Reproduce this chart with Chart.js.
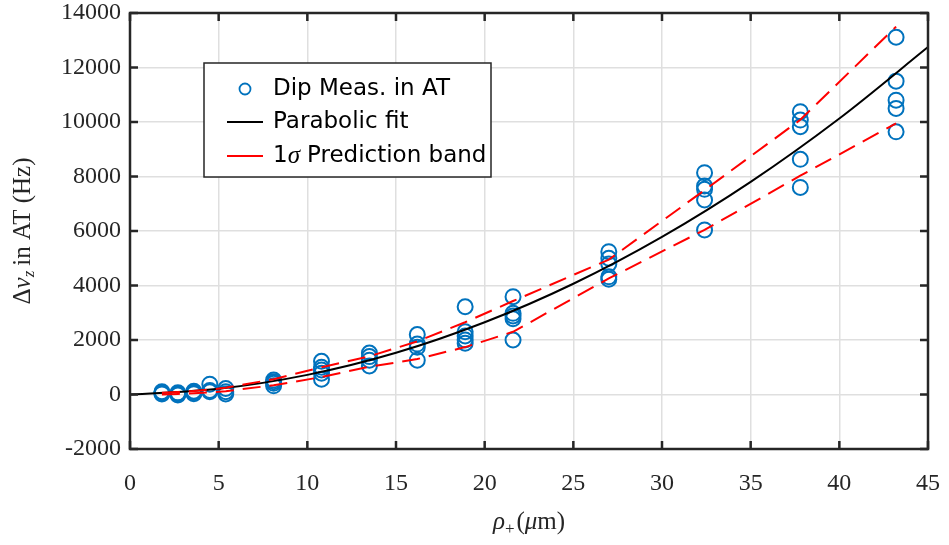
<!DOCTYPE html>
<html>
<head>
<meta charset="utf-8">
<script src="https://cdn.jsdelivr.net/npm/chart.js@4.4.0/dist/chart.umd.min.js"></script>
<style>
  body { margin: 0; background: #fff; }
  canvas { display: block; }
</style>
</head>
<body>
<canvas id="myChart" width="949" height="545"></canvas>
<script>
// measurements (x in um, y in Hz)
const measX = [
  1.8, 1.8, 1.8, 2.7, 2.7, 2.7, 3.6, 3.6, 3.6, 4.5, 4.5, 4.5, 5.4, 5.4, 5.4,
  8.1, 8.1, 8.1, 8.1,
  10.8, 10.8, 10.8, 10.8, 10.8,
  13.5, 13.5, 13.5, 13.5,
  16.2, 16.2, 16.2, 16.2,
  18.9, 18.9, 18.9, 18.9, 18.9,
  21.6, 21.6, 21.6, 21.6, 21.6,
  27, 27, 27, 27, 27,
  32.4, 32.4, 32.4, 32.4, 32.4,
  37.8, 37.8, 37.8, 37.8, 37.8,
  43.2, 43.2, 43.2, 43.2, 43.2,
];
const measY = [
  20, 60, 100, -20, 20, 60, 30, 70, 120, 100, 150, 380, 20, 100, 220,
  320, 410, 470, 530,
  560, 780, 900, 1000, 1220,
  1050, 1260, 1390, 1520,
  1260, 1730, 1850, 2200,
  1880, 2000, 2150, 2300, 3220,
  2000, 2780, 2880, 2980, 3590,
  4230, 4320, 4790, 5000, 5240,
  6040, 7140, 7530, 7650, 8140,
  7600, 8630, 9830, 10070, 10380,
  9640, 10500, 10800, 11500, 13110,
];

// parabolic fit
const fitX = [0, 5, 10, 15, 20, 25, 30, 35, 40, 45];
const fitY = [0, 210, 720, 1530, 2650, 4065, 5785, 7805, 10130, 12750];

// 1 sigma prediction band
const bandX = [1.8, 2.7, 3.6, 4.5, 5.4, 8.1, 10.8, 13.5, 16.2, 18.9, 21.6, 27, 32.4, 37.8, 43.2];
const bandUpper = [60, 90, 130, 180, 250, 560, 1000, 1400, 1950, 2650, 3430, 4950, 7500, 10080, 13500];
const bandLower = [0, 20, 50, 80, 120, 340, 640, 1020, 1300, 1740, 2300, 4260, 6040, 8030, 9950];

const xTicks = [0, 5, 10, 15, 20, 25, 30, 35, 40, 45];
const yTicks = [-2000, 0, 2000, 4000, 6000, 8000, 10000, 12000, 14000];

const legendLabels = ["Dip Meas. in AT", "Parabolic fit", "Prediction band"];

const BLUE = "rgb(0,114,189)";
const RED = "rgb(255,0,0)";
const AXIS = "#262626";
const SERIF = "'Liberation Serif', 'DejaVu Serif', serif";
const SANS = "'DejaVu Sans', 'Liberation Sans', sans-serif";

const zip = (xs, ys) => xs.map((x, i) => ({ x: x, y: ys[i] }));

// draw a row of text pieces (for subscripts), centred on cx
function drawRuns(ctx, runs, cx, cy) {
  let total = 0;
  runs.forEach((r) => {
    ctx.font = r.font;
    r.w = ctx.measureText(r.text).width;
    total += r.w + (r.gap || 0);
  });
  let x = cx - total / 2;
  ctx.textBaseline = "alphabetic";
  ctx.textAlign = "left";
  runs.forEach((r) => {
    ctx.font = r.font;
    ctx.fillText(r.text, x, cy + (r.dy || 0));
    x += r.w + (r.gap || 0);
  });
}

const decorPlugin = {
  id: "decor",
  afterDatasetsDraw(chart) {
    const ctx = chart.ctx;
    const a = chart.chartArea;
    const xs = chart.scales.x;
    const ys = chart.scales.y;
    ctx.save();
    // frame
    ctx.strokeStyle = AXIS;
    ctx.lineWidth = 2.5;
    ctx.strokeRect(a.left, a.top, a.right - a.left, a.bottom - a.top);
    // inward ticks
    const tl = 8;
    ctx.beginPath();
    xTicks.forEach((v) => {
      const px = xs.getPixelForValue(v);
      ctx.moveTo(px, a.bottom);
      ctx.lineTo(px, a.bottom - tl);
      ctx.moveTo(px, a.top);
      ctx.lineTo(px, a.top + tl);
    });
    yTicks.forEach((v) => {
      const py = ys.getPixelForValue(v);
      ctx.moveTo(a.left, py);
      ctx.lineTo(a.left + tl, py);
      ctx.moveTo(a.right, py);
      ctx.lineTo(a.right - tl, py);
    });
    ctx.stroke();

    // legend box
    const lx = 204, ly = 63, lw = 287, lh = 114;
    ctx.fillStyle = "#fff";
    ctx.fillRect(lx, ly, lw, lh);
    ctx.strokeStyle = "#262626";
    ctx.lineWidth = 1.5;
    ctx.strokeRect(lx, ly, lw, lh);

    const rows = [89, 122, 156];
    ctx.strokeStyle = BLUE;
    ctx.lineWidth = 1.8;
    ctx.beginPath();
    ctx.arc(245, rows[0], 5.5, 0, Math.PI * 2);
    ctx.stroke();
    ctx.strokeStyle = "#000";
    ctx.lineWidth = 2;
    ctx.beginPath();
    ctx.moveTo(227, rows[1]);
    ctx.lineTo(263, rows[1]);
    ctx.stroke();
    ctx.strokeStyle = RED;
    ctx.beginPath();
    ctx.moveTo(227, rows[2]);
    ctx.lineTo(263, rows[2]);
    ctx.stroke();

    ctx.fillStyle = "#000";
    ctx.textAlign = "left";
    ctx.textBaseline = "middle";
    ctx.font = "23px " + SANS;
    ctx.fillText(legendLabels[0], 273, rows[0]);
    ctx.fillText(legendLabels[1], 273, rows[1]);
    ctx.fillText("1", 273, rows[2]);
    let x = 273 + ctx.measureText("1").width;
    ctx.font = "italic 25px " + SERIF;
    ctx.fillText("\u03C3", x, rows[2]);
    x += ctx.measureText("\u03C3").width + 7;
    ctx.font = "23px " + SANS;
    ctx.fillText(legendLabels[2], x, rows[2]);

    // axis titles
    ctx.fillStyle = AXIS;
    drawRuns(ctx, [
      { text: "\u03C1", font: "italic 25px " + SERIF },
      { text: "+", font: "17px " + SERIF, dy: 5, gap: 2 },
      { text: "(", font: "25px " + SERIF },
      { text: "\u03BC", font: "italic 25px " + SERIF },
      { text: "m)", font: "25px " + SERIF },
    ], (a.left + a.right) / 2, 529);

    ctx.translate(30, (a.top + a.bottom) / 2);
    ctx.rotate(-Math.PI / 2);
    drawRuns(ctx, [
      { text: "\u0394", font: "25px " + SERIF },
      { text: "\u03BD", font: "italic 25px " + SERIF },
      { text: "z", font: "italic 17px " + SERIF, dy: 4, gap: 5 },
      { text: "in AT (Hz)", font: "25px " + SERIF },
    ], 0, 0);
    ctx.restore();
  },
};

const data = {
  datasets: [
    {
      label: "Upper band",
      data: zip(bandX, bandUpper),
      showLine: true,
      borderColor: RED,
      borderWidth: 2,
      borderDash: [18, 9],
      pointRadius: 0,
      order: 1,
    },
    {
      label: "Lower band",
      data: zip(bandX, bandLower),
      showLine: true,
      borderColor: RED,
      borderWidth: 2,
      borderDash: [18, 9],
      pointRadius: 0,
      order: 1,
    },
    {
      label: "Parabolic fit",
      data: zip(fitX, fitY),
      showLine: true,
      borderColor: "#000",
      borderWidth: 2,
      pointRadius: 0,
      cubicInterpolationMode: "monotone",
      order: 2,
    },
    {
      label: "Dip Meas. in AT",
      data: zip(measX, measY),
      showLine: false,
      pointStyle: "circle",
      pointRadius: 7.5,
      pointBorderWidth: 2,
      pointBorderColor: BLUE,
      pointBackgroundColor: "rgba(0,0,0,0)",
      order: 3,
    },
  ],
};

const config = {
  type: "scatter",
  data: data,
  options: {
    responsive: false,
    animation: false,
    events: [],
    layout: { padding: { left: 0, right: 21, top: 13, bottom: 0 } },
    scales: {
      x: {
        type: "linear",
        min: 0,
        max: 45,
        afterBuildTicks: (s) => { s.ticks = xTicks.map((v) => ({ value: v })); },
        afterFit: (s) => { s.height = 96; s.paddingLeft = 0; s.paddingRight = 0; },
        grid: { color: "#dfdfdf", lineWidth: 1.5, drawTicks: false },
        border: { display: false },
        ticks: {
          padding: 20,
          color: AXIS,
          maxRotation: 0,
          font: { family: SERIF, size: 24 },
        },
      },
      y: {
        type: "linear",
        min: -2000,
        max: 14000,
        afterBuildTicks: (s) => { s.ticks = yTicks.map((v) => ({ value: v })); },
        afterFit: (s) => { s.width = 130; s.paddingTop = 0; s.paddingBottom = 0; },
        grid: { color: "#dfdfdf", lineWidth: 1.5, drawTicks: false },
        border: { display: false },
        ticks: {
          padding: 9,
          color: AXIS,
          font: { family: SERIF, size: 24 },
          callback: (v) => String(v),
        },
      },
    },
    plugins: {
      legend: { display: false },
      tooltip: { enabled: false },
    },
  },
  plugins: [decorPlugin],
};

const myChart = new Chart(document.getElementById("myChart"), config);
</script>
</body>
</html>
